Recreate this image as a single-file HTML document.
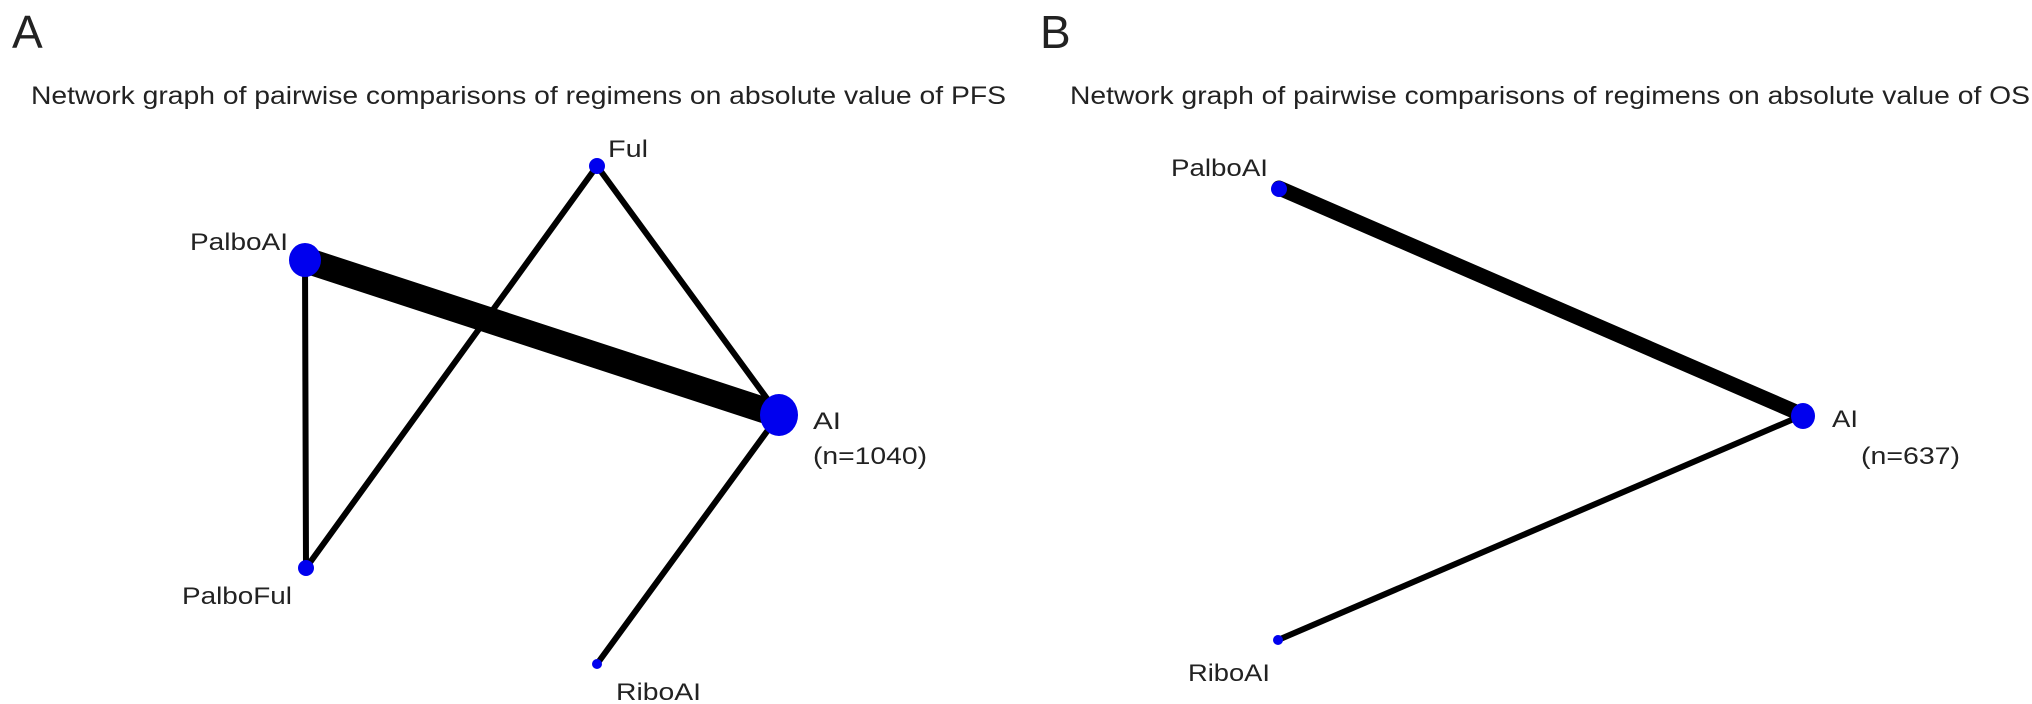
<!DOCTYPE html>
<html><head><style>html,body{margin:0;padding:0;background:#fff}svg{display:block}</style></head>
<body>
<svg width="2032" height="704" viewBox="0 0 2032 704" xmlns="http://www.w3.org/2000/svg" font-family="Liberation Sans, Arial, sans-serif" fill="#222">
<text x="12" y="48" font-size="46">A</text>
<text x="1040" y="48" font-size="46">B</text>
<text x="31" y="104" font-size="25" textLength="975" lengthAdjust="spacingAndGlyphs">Network graph of pairwise comparisons of regimens on absolute value of PFS</text>
<text x="1070" y="104" font-size="25" textLength="960" lengthAdjust="spacingAndGlyphs">Network graph of pairwise comparisons of regimens on absolute value of OS</text>
<g stroke="#000" stroke-linecap="round">
<line x1="305" y1="260" x2="779" y2="415" stroke-width="26"/>
<line x1="305" y1="260" x2="306" y2="568" stroke-width="6"/>
<line x1="597" y1="166" x2="306" y2="568" stroke-width="6"/>
<line x1="597" y1="166" x2="779" y2="415" stroke-width="6"/>
<line x1="779" y1="415" x2="597" y2="664" stroke-width="6"/>
<line x1="1279" y1="188" x2="1803" y2="415" stroke-width="15"/>
<line x1="1278" y1="640" x2="1803" y2="415" stroke-width="6"/>
</g>
<g fill="#0000ee">
<ellipse cx="305" cy="260" rx="16" ry="17"/>
<ellipse cx="779" cy="415" rx="19" ry="21"/>
<circle cx="597" cy="166" r="8"/>
<circle cx="306" cy="568" r="8"/>
<circle cx="597" cy="664" r="5"/>
<circle cx="1279" cy="189" r="8"/>
<ellipse cx="1803" cy="416" rx="12" ry="13"/>
<circle cx="1278" cy="640" r="5"/>
</g>
<g font-size="24">
<text x="608" y="157" textLength="40" lengthAdjust="spacingAndGlyphs">Ful</text>
<text x="190" y="250" textLength="98" lengthAdjust="spacingAndGlyphs">PalboAI</text>
<text x="813" y="429" textLength="28" lengthAdjust="spacingAndGlyphs">AI</text>
<text x="813" y="464" textLength="114" lengthAdjust="spacingAndGlyphs">(n=1040)</text>
<text x="182" y="604" textLength="110" lengthAdjust="spacingAndGlyphs">PalboFul</text>
<text x="616" y="700" textLength="85" lengthAdjust="spacingAndGlyphs">RiboAI</text>
<text x="1171" y="176" textLength="97" lengthAdjust="spacingAndGlyphs">PalboAI</text>
<text x="1832" y="427" textLength="26" lengthAdjust="spacingAndGlyphs">AI</text>
<text x="1861" y="464" textLength="99" lengthAdjust="spacingAndGlyphs">(n=637)</text>
<text x="1188" y="681" textLength="82" lengthAdjust="spacingAndGlyphs">RiboAI</text>
</g>
</svg>
</body></html>
